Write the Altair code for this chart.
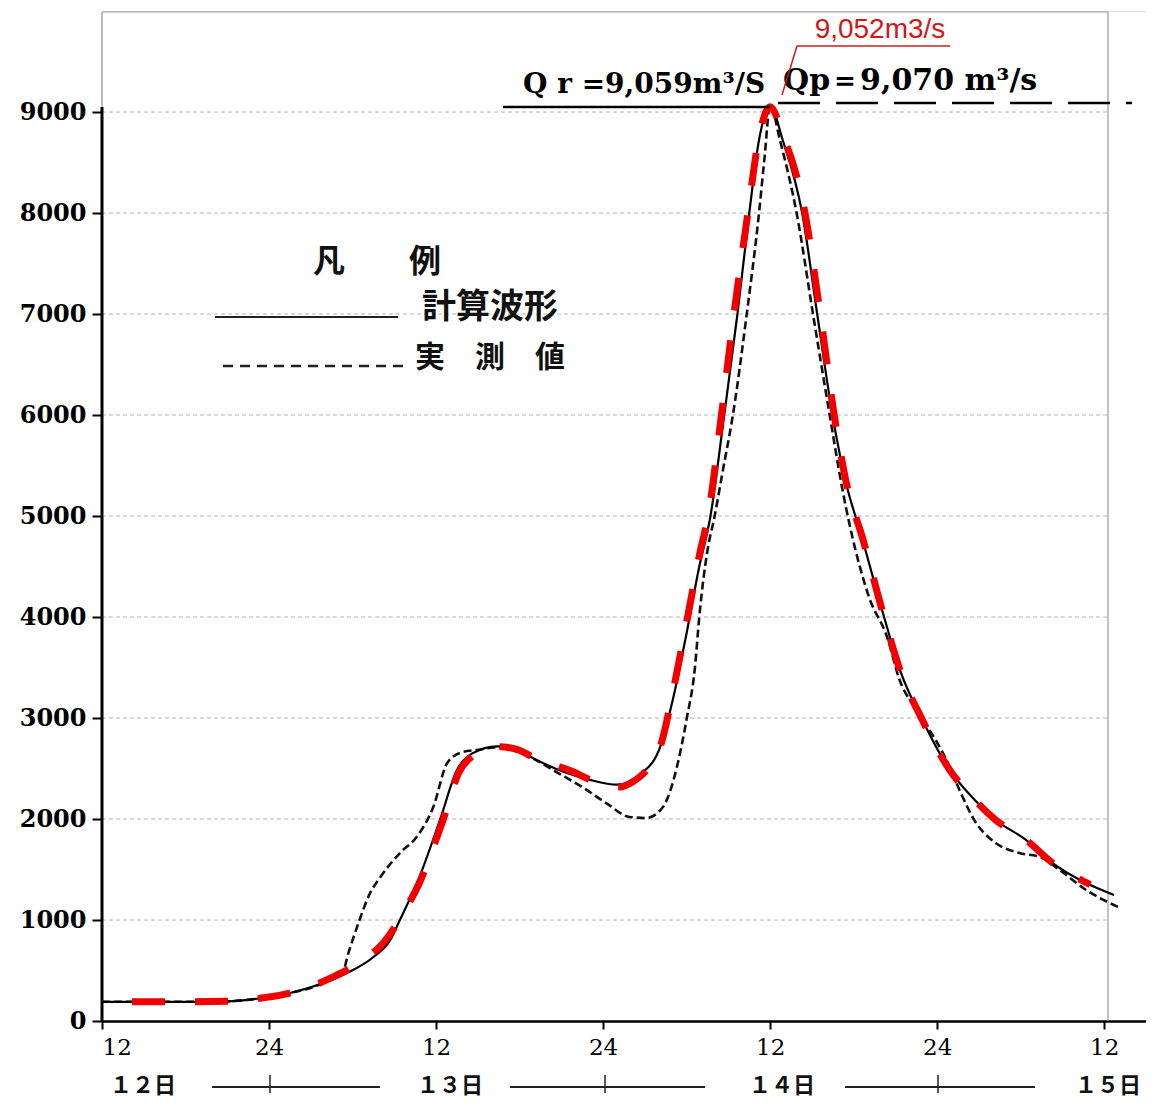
import altair as alt
import pandas as pd

# ---------------- data (hours from 12:00 on the 12th, discharge m3/s) ----------------
calc_h = [0, 3, 6, 9, 11.6, 13.5, 15.9, 17.6, 19.5, 20.7, 21.4, 22.8, 24.3, 25.5, 26.6, 28.4,
          29.8, 31.0, 33.4, 35.0, 37.0, 38.8, 40.1, 41.0, 42.0, 42.9, 43.7, 44.7, 45.65, 46.5,
          47.2, 48.0, 48.9, 50.3, 51.4, 52.5, 53.5, 54.5, 56.1, 57.4, 58.9, 60.9, 62.5, 64.2,
          66.4, 68.3, 70.7, 72.7]
calc_q = [190, 190, 190, 195, 230, 277, 376, 475, 634, 800, 1000, 1425, 2000, 2485, 2650, 2720,
          2690, 2600, 2455, 2390, 2340, 2455, 2713, 3178, 3842, 4495, 4990, 6000, 7000, 8000,
          8723, 9059, 8723, 8000, 6980, 5980, 5300, 4832, 4040, 3446, 2990, 2485, 2218, 1990,
          1792, 1564, 1366, 1248]

obs_h = [0, 3, 6, 9, 11.6, 13.5, 15.9, 17.3, 17.7, 18.0, 18.5, 19.2, 20.0, 21.4, 22.6, 23.8,
         24.8, 25.9, 26.9, 28.4, 30.9, 32.7, 34.5, 36.3, 37.9, 39.1, 40.3, 41.3, 42.0, 42.6,
         42.9, 43.5, 44.0, 44.6, 45.3, 46.3, 47.2, 47.6, 48.0, 48.7, 49.9, 51.1, 52.3, 53.2,
         55.1, 56.4, 57.3, 58.7, 60.9, 61.6, 62.8, 64.2, 65.9, 67.4, 68.8, 70.7, 73.0]
obs_q = [190, 190, 190, 195, 230, 277, 376, 485, 673, 800, 1000, 1250, 1425, 1663, 1822, 2119,
         2554, 2663, 2683, 2710, 2604, 2460, 2317, 2150, 2020, 2010, 2119, 2515, 2990, 3505,
         3990, 4663, 4990, 5450, 5980, 6980, 8000, 8554, 9070, 8723, 8000, 6980, 5980, 5257,
         4198, 3802, 3376, 3050, 2515, 2287, 1960, 1762, 1663, 1624, 1495, 1297, 1129]

red_h = [0, 3, 6, 9, 11.6, 13.5, 16.6, 18.5, 20.2, 21.9, 22.8, 23.8, 24.5, 25.6, 26.8, 28.4,
         29.8, 31.0, 33.8, 35.2, 37.2, 38.1, 39.2, 40.2, 41.0, 42.0, 42.9, 43.6, 44.5, 45.4,
         46.4, 47.2, 48.0, 48.9, 50.5, 51.6, 52.6, 53.6, 54.6, 56.1, 57.4, 58.9, 60.9, 62.5,
         64.2, 66.4, 68.3, 71.0]
red_q = [190, 190, 190, 195, 230, 277, 436, 580, 772, 1129, 1366, 1723, 1990, 2450, 2640, 2715,
         2690, 2610, 2470, 2380, 2317, 2366, 2500, 2760, 3250, 3950, 4600, 5050, 6000, 7000,
         8000, 8750, 9052, 8780, 8000, 7000, 6000, 5250, 4800, 4040, 3446, 2990, 2485, 2218,
         1990, 1792, 1564, 1350]

x_ticks = [0, 12, 24, 36, 48, 60, 72]
x_tick_labels = ["12", "24", "12", "24", "12", "24", "12"]
y_ticks = [0, 1000, 2000, 3000, 4000, 5000, 6000, 7000, 8000, 9000]
day_labels = ["１２日", "１３日", "１４日", "１５日"]
legend_title = "凡　　例"
legend_calc = "計算波形"
legend_obs = "実　測　値"
red_peak_label = "9,052m3/s"
qr_label = "Q r =9,059m³/S"
qp_label = "Qp＝9,070 m³/s"

# ---------------- scales / axes ----------------
W, H = 1044, 1010
xscale = alt.Scale(domain=[0, 75], nice=False, zero=False)
yscale = alt.Scale(domain=[0, 10000], nice=False)

label_expr = "[" + ",".join("'%s'" % s for s in x_tick_labels) + "][round(datum.value/12)]"
xaxis = alt.Axis(values=x_ticks, labelExpr=label_expr, title=None, grid=False,
                 domainColor="black", domainWidth=2.5, tickColor="black", tickWidth=2,
                 tickSize=8, labelFont="DejaVu Serif", labelFontSize=23, labelColor="black",
                 labelPadding=7)
yaxis = alt.Axis(values=y_ticks, format="d", title=None, grid=False, domain=False,
                 tickColor="black", tickWidth=2, tickSize=10, labelFont="DejaVu Serif",
                 labelFontWeight="bold", labelFontSize=24, labelColor="black", labelPadding=6)

X = alt.X("h:Q", scale=xscale, axis=xaxis)
Y = alt.Y("q:Q", scale=yscale, axis=yaxis)

calc_df = pd.DataFrame({"h": calc_h, "q": calc_q})
obs_df = pd.DataFrame({"h": obs_h, "q": obs_q})
red_df = pd.DataFrame({"h": red_h, "q": red_q})
grid_df = pd.DataFrame({"q": y_ticks[1:]})

one = pd.DataFrame({"a": [0]})


def txt(s, x, y, **kw):
    return alt.Chart(pd.DataFrame({"t": [s]})).mark_text(**kw).encode(
        x=alt.value(x), y=alt.value(y), text="t:N")


def seg(x1, y1, x2, y2, **kw):
    return alt.Chart(one).mark_rule(**kw).encode(
        x=alt.value(x1), y=alt.value(y1), x2=alt.value(x2), y2=alt.value(y2))


grid = alt.Chart(grid_df).mark_rule(color="#b4b4b4", strokeWidth=1, strokeDash=[4, 3]).encode(
    y=Y, x=alt.value(0), x2=alt.value(1006))

frame_top = seg(0, 1, 1006, 1, color="#9a9a9a", strokeWidth=1.2)
frame_right = seg(1006, 1, 1006, H, color="#9a9a9a", strokeWidth=1.2)
frame_left = seg(0, 1, 0, H, color="#9a9a9a", strokeWidth=1.2)
yaxis_line = alt.Chart(one).mark_rule(color="black", strokeWidth=3).encode(
    x=alt.value(0), y=alt.datum(0, scale=yscale), y2=alt.datum(9050))

obs_line = alt.Chart(obs_df).mark_line(color="#111111", strokeWidth=2.6, strokeDash=[8, 4],
                                       interpolate="monotone").encode(x=X, y=Y)
calc_line = alt.Chart(calc_df).mark_line(color="black", strokeWidth=2.2,
                                         interpolate="monotone").encode(x=X, y=Y)
red_line = alt.Chart(red_df).mark_line(color="#f20000", strokeWidth=7, strokeDash=[33, 30],
                                       strokeDashOffset=33, strokeCap="butt",
                                       interpolate="monotone").encode(x=X, y=Y)

# top annotations
qr_rule = seg(401, 96, 668, 96, color="black", strokeWidth=2.5)
qp_rule = seg(676, 92, 1030, 92, color="black", strokeWidth=2.5, strokeDash=[42, 16])
qr_text = txt(qr_label, 421, 74, font="DejaVu Serif", fontWeight="bold", fontSize=28,
              align="left", baseline="middle", color="black")
qp_text = txt(qp_label, 681, 70, font="DejaVu Serif", fontWeight="bold", fontSize=30,
              align="left", baseline="middle", color="black")
red_text = txt(red_peak_label, 778, 19, font="Liberation Sans", fontSize=28,
               align="center", baseline="middle", color="#d01818")
red_under = seg(695, 35, 848, 35, color="#d01818", strokeWidth=1.5)
red_diag = seg(695, 35, 680, 84, color="#d01818", strokeWidth=1.5)

# legend
leg_title = txt(legend_title, 275, 251, font="Noto Sans CJK JP", fontWeight="bold",
                fontSize=32, align="center", baseline="middle", color="#111111")
leg_calc_line = seg(113, 306, 296, 306, color="#222222", strokeWidth=2)
leg_obs_line = seg(121, 355, 301, 355, color="#222222", strokeWidth=2.5, strokeDash=[10, 7])
leg_calc = txt(legend_calc, 388, 297, font="Noto Sans CJK JP", fontWeight="bold",
               fontSize=34, align="center", baseline="middle", color="#111111")
leg_obs = txt(legend_obs, 388, 347, font="Noto Sans CJK JP", fontWeight="bold",
              fontSize=30, align="center", baseline="middle", color="#111111")

# day labels and separators below the axis
day_x = [41, 348, 680, 1006]
day_layers = [txt(s, xx, 1075, font="Noto Sans CJK JP", fontWeight="bold", fontSize=22,
                  align="center", baseline="middle", color="#111111")
              for s, xx in zip(day_labels, day_x)]
sep_layers = []
for (a, b, t) in [(110, 278, 168), (408, 603, 503), (743, 933, 836)]:
    sep_layers.append(seg(a, 1076, b, 1076, color="#222222", strokeWidth=2))
    sep_layers.append(seg(t, 1064, t, 1082, color="#222222", strokeWidth=1.5))

chart = alt.layer(
    grid, frame_top, frame_right, frame_left, yaxis_line,
    obs_line, calc_line, red_line,
    qr_rule, qp_rule, qr_text, qp_text, red_text, red_under, red_diag,
    leg_title, leg_calc_line, leg_obs_line, leg_calc, leg_obs,
    *day_layers, *sep_layers,
).properties(
    width=W, height=H, autosize="none",
    padding={"left": 94, "top": 3, "right": 0, "bottom": 84},
).configure_view(stroke=None).configure(background="white")

chart.save("out.html", embed_options={"renderer": "svg", "actions": False})
